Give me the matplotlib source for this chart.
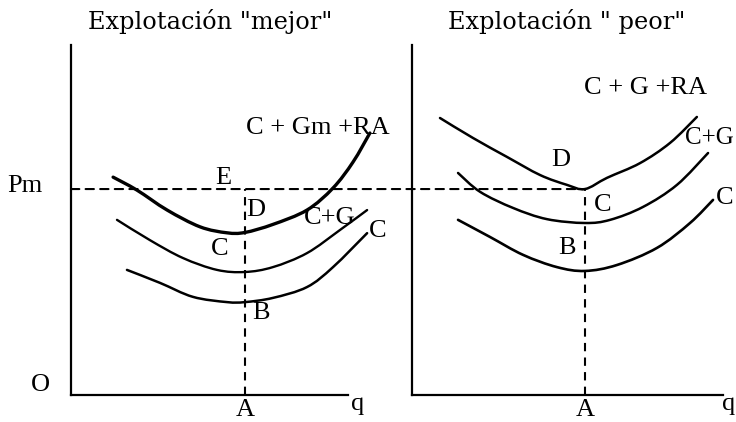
import matplotlib
matplotlib.use("Agg")
import matplotlib.pyplot as plt
from matplotlib.patches import ConnectionPatch, PathPatch
from matplotlib.path import Path

plt.rcParams['font.family'] = ['Liberation Serif', 'DejaVu Serif']

# ---------------- data ----------------
# common vertical scale (cost / price), 0..10
pm = 5.87                     # market price Pm

# left panel: "mejor"
q_a_left = 6.28
left_top_q = [1.52, 2.38, 3.47, 4.66, 5.63, 6.28, 7.29, 8.52, 9.46, 10.18, 10.79]
left_top_c = [6.21, 5.84, 5.27, 4.79, 4.62, 4.63, 4.86, 5.27, 5.90, 6.64, 7.47]
left_mid_q = [1.66, 2.85, 4.04, 5.27, 6.28, 7.29, 8.52, 9.71, 10.69]
left_mid_c = [4.99, 4.41, 3.90, 3.56, 3.50, 3.64, 4.04, 4.70, 5.27]
left_bot_q = [2.02, 3.21, 4.40, 5.63, 6.28, 7.29, 8.52, 9.46, 10.69]
left_bot_c = [3.56, 3.19, 2.79, 2.64, 2.64, 2.76, 3.07, 3.64, 4.61]

# right panel: "peor"
q_a_right = 5.56
right_top_q = [0.90, 1.96, 3.05, 4.12, 4.98, 5.56, 6.27, 7.33, 8.30, 9.16]
right_top_c = [7.90, 7.33, 6.79, 6.27, 5.99, 5.87, 6.19, 6.61, 7.19, 7.93]
right_mid_q = [1.48, 2.19, 3.25, 4.34, 5.56, 6.37, 7.43, 8.52, 9.52]
right_mid_c = [6.33, 5.79, 5.33, 5.01, 4.90, 4.99, 5.36, 5.99, 6.90]
right_bot_q = [1.48, 2.51, 3.57, 4.66, 5.56, 6.59, 7.88, 8.94, 9.68]
right_bot_c = [4.99, 4.50, 3.99, 3.64, 3.53, 3.70, 4.19, 4.90, 5.56]

titles = ['Explotación "mejor"', 'Explotación " peor"']

# ---------------- figure ----------------
W, H = 736, 422
fig = plt.figure(figsize=(W / 100, H / 100), dpi=100)
fig.patch.set_facecolor('white')

def rect(x0, x1, ytop, ybot):
    return [x0 / W, 1 - ybot / H, (x1 - x0) / W, (ybot - ytop) / H]

ax1 = fig.add_axes(rect(71, 348, 44.5, 394.5))
ax2 = fig.add_axes(rect(412, 723, 44.5, 394.5))

for ax in (ax1, ax2):
    ax.set_xlim(0, 10)
    ax.set_ylim(0, 10)
    ax.set_facecolor('none')
    for s in ('top', 'right'):
        ax.spines[s].set_visible(False)
    for s in ('left', 'bottom'):
        ax.spines[s].set_linewidth(1.6)
        ax.spines[s].set_color('black')
    ax.set_xticks([])
    ax.set_yticks([])


def smooth_curve(ax, xs, ys, lw):
    """Draw a smooth (Catmull-Rom as cubic Bezier) curve through the points."""
    pts = list(zip(xs, ys))
    verts = [pts[0]]
    codes = [Path.MOVETO]
    n = len(pts)
    for i in range(n - 1):
        p0 = pts[i - 1] if i > 0 else pts[i]
        p1 = pts[i]
        p2 = pts[i + 1]
        p3 = pts[i + 2] if i + 2 < n else pts[i + 1]
        c1 = (p1[0] + (p2[0] - p0[0]) / 6, p1[1] + (p2[1] - p0[1]) / 6)
        c2 = (p2[0] - (p3[0] - p1[0]) / 6, p2[1] - (p3[1] - p1[1]) / 6)
        verts += [c1, c2, p2]
        codes += [Path.CURVE4] * 3
    patch = PathPatch(Path(verts, codes), fill=False, edgecolor='black',
                      lw=lw, capstyle='round', joinstyle='round',
                      clip_on=False)
    ax.add_patch(patch)


smooth_curve(ax1, left_top_q, left_top_c, 2.4)
smooth_curve(ax1, left_mid_q, left_mid_c, 1.7)
smooth_curve(ax1, left_bot_q, left_bot_c, 1.8)
smooth_curve(ax2, right_top_q, right_top_c, 1.8)
smooth_curve(ax2, right_mid_q, right_mid_c, 1.8)
smooth_curve(ax2, right_bot_q, right_bot_c, 1.9)

dash = (0, (4, 3))
ax1.plot([q_a_left, q_a_left], [0, pm], color='black', lw=1.5,
         linestyle=dash, clip_on=False)
ax2.plot([q_a_right, q_a_right], [0, pm], color='black', lw=1.5,
         linestyle=dash, clip_on=False)
con = ConnectionPatch(xyA=(0, pm), coordsA=ax1.transData,
                      xyB=(q_a_right, pm), coordsB=ax2.transData,
                      color='black', lw=1.5, linestyle=dash)
fig.add_artist(con)


def label(x, y, s, size=19, ha='center', family=None):
    kw = {}
    if family:
        kw['family'] = family
    fig.text(x / W, 1 - y / H, s, ha=ha, va='center', fontsize=size,
             color='black', **kw)


title_font = ['DejaVu Serif']
label(210, 21, titles[0], size=17.3, family=title_font)
label(567, 21, titles[1], size=17.3, family=title_font)
label(25, 186, 'Pm')
label(40, 385, 'O')
label(245, 410, 'A')
label(358, 404, 'q')
label(585, 410, 'A')
label(729, 404, 'q')
label(223, 178, 'E')
label(256, 210, 'D')
label(220, 249, 'C')
label(261, 313, 'B')
label(246, 128, 'C + Gm +RA', ha='left')
label(330, 218, 'C+G')
label(378, 231, 'C')
label(645, 88, 'C + G +RA')
label(709, 138, 'C+G', size=18)
label(725, 198, 'C')
label(561, 160, 'D')
label(603, 205, 'C')
label(567, 248, 'B')

fig.savefig('out.png', dpi=100, facecolor='white')
